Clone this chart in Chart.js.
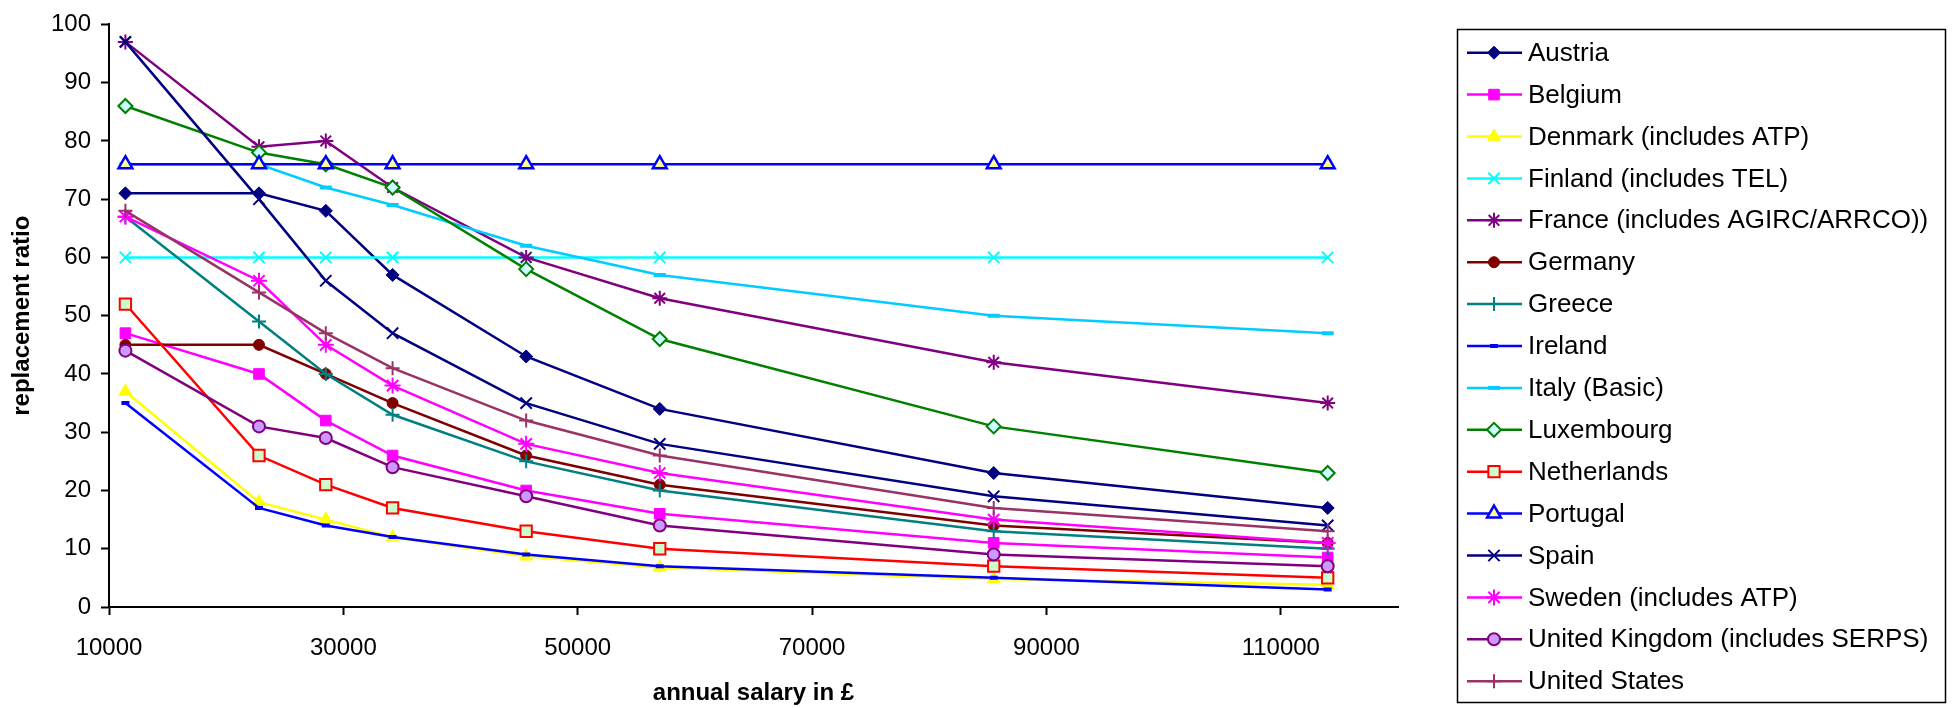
<!DOCTYPE html>
<html>
<head>
<meta charset="utf-8">
<script src="https://cdn.jsdelivr.net/npm/chart.js@4.4.0/dist/chart.umd.min.js"></script>
<style>
html, body { margin: 0; padding: 0; background: #fff; }
#wrap { width: 1952px; height: 708px; }
</style>
</head>
<body>
<div id="wrap"><canvas id="myChart" width="1952" height="708"></canvas></div>
<script>
// annual salary in pounds (x) and replacement ratio per country (y)
var salaries = [11400, 22800, 28500, 34200, 45600, 57000, 85500, 114000];
var xTickLabels = [10000, 30000, 50000, 70000, 90000, 110000];
var yTickLabels = [0, 10, 20, 30, 40, 50, 60, 70, 80, 90, 100];

var countries = ['Austria', 'Belgium', 'Denmark (includes ATP)', 'Finland (includes TEL)',
	'France (includes AGIRC/ARRCO))', 'Germany', 'Greece', 'Ireland', 'Italy (Basic)',
	'Luxembourg', 'Netherlands', 'Portugal', 'Spain', 'Sweden (includes ATP)',
	'United Kingdom (includes SERPS)', 'United States'];

var austria     = [71, 71, 68, 57, 43, 34, 23, 17];
var belgium     = [47, 40, 32, 26, 20, 16, 11, 8.5];
var denmark     = [37, 18, 15, 12, 8.7, 6.8, 4.8, 3.8];
var finland     = [60, 60, 60, 60, 60, 60, 60, 60];
var france      = [97, 79, 80, 72, 60, 53, 42, 35];
var germany     = [45, 45, 40, 35, 26, 21, 14, 11];
var greece      = [67, 49, 40, 33, 25, 20, 13, 10];
var ireland     = [35, 17, 14, 12, 9, 7, 5, 3];
var italy       = [76, 76, 72, 69, 62, 57, 50, 47];
var luxembourg  = [86, 78, 76, 72, 58, 46, 31, 23];
var netherlands = [52, 26, 21, 17, 13, 10, 7, 5];
var portugal    = [76, 76, 76, 76, 76, 76, 76, 76];
var spain       = [97, 70, 56, 47, 35, 28, 19, 14];
var sweden      = [67, 56, 45, 38, 28, 23, 15, 11];
var uk          = [44, 31, 29, 24, 19, 14, 9, 7];
var us          = [68, 54, 47, 41, 32, 26, 17, 13];

var seriesValues = [austria, belgium, denmark, finland, france, germany, greece, ireland,
	italy, luxembourg, netherlands, portugal, spain, sweden, uk, us];

// line colour, marker style, marker size, marker fill, marker border, border width
var styles = [
	['#000080', 'rectRot', 6.5, '#000080', '#000080', 1],
	['#FF00FF', 'rect', 7.5, '#FF00FF', '#FF00FF', 1],
	['#FFFF00', 'triangle', 7.5, '#FFFF00', '#FFFF00', 1],
	['#00FFFF', 'crossRot', 8, '#00FFFF', '#00FFFF', 2],
	['#800080', 'star', 7.5, '#800080', '#800080', 2],
	['#800000', 'circle', 5.5, '#800000', '#800000', 1],
	['#008080', 'cross', 7, '#008080', '#008080', 2],
	['#0000FF', 'line', 4, '#0000FF', '#0000FF', 4],
	['#00CCFF', 'line', 6, '#00CCFF', '#00CCFF', 4],
	['#008000', 'rectRot', 7, '#CCFFFF', '#008000', 2],
	['#FF0000', 'rect', 8, '#CCFFCC', '#FF0000', 2],
	['#0000FF', 'triangle', 8, '#FFFF99', '#0000FF', 2.5],
	['#000080', 'crossRot', 8, '#000080', '#000080', 2],
	['#FF00FF', 'star', 8, '#FF00FF', '#FF00FF', 2],
	['#800080', 'circle', 6, '#CC99FF', '#800080', 2],
	['#993366', 'cross', 7, '#993366', '#993366', 2]
];

var datasets = [];
countries.forEach(function(name, i) {
	var s = styles[i];
	datasets.push({
		label: name,
		data: salaries.map(function(x, j) { return { x: x, y: seriesValues[i][j] }; }),
		borderColor: s[0],
		borderWidth: 2.5,
		pointStyle: s[1],
		pointRadius: s[2],
		pointBackgroundColor: s[3],
		pointBorderColor: s[4],
		pointBorderWidth: s[5],
		tension: 0,
		fill: false,
		order: 20 - i
	});
});

// excel style legend: boxed, line + marker samples
var legendBox = {
	id: 'legendBox',
	afterDraw: function(chart) {
		var ctx = chart.ctx;
		ctx.save();
		ctx.strokeStyle = '#000';
		ctx.lineWidth = 1.5;
		ctx.strokeRect(1457.5, 29.5, 488, 673);
		chart.data.datasets.forEach(function(ds, i) {
			var y = 52.7 + i * 41.9;
			ctx.strokeStyle = ds.borderColor;
			ctx.lineWidth = ds.borderWidth;
			ctx.beginPath();
			ctx.moveTo(1467, y);
			ctx.lineTo(1522, y);
			ctx.stroke();
			ctx.lineWidth = ds.pointBorderWidth;
			ctx.strokeStyle = ds.pointBorderColor;
			ctx.fillStyle = ds.pointBackgroundColor;
			Chart.helpers.drawPoint(ctx, {
				pointStyle: ds.pointStyle, radius: ds.pointRadius,
				borderWidth: ds.pointBorderWidth, rotation: 0
			}, 1494, y);
			ctx.fillStyle = '#000';
			ctx.font = '26px "Liberation Sans", Arial, sans-serif';
			ctx.textBaseline = 'middle';
			ctx.textAlign = 'left';
			ctx.fillText(ds.label, 1528, y + 1);
		});
		ctx.restore();
	}
};

Chart.defaults.font.family = '"Liberation Sans", Arial, sans-serif';
Chart.defaults.color = '#000';

const ctx = document.getElementById('myChart').getContext('2d');
const myChart = new Chart(ctx, {
	type: 'line',
	data: { datasets: datasets },
	plugins: [legendBox],
	options: {
		responsive: false,
		devicePixelRatio: 1,
		animation: false,
		layout: { padding: { left: 0, top: 21, right: 554, bottom: 0 } },
		plugins: {
			legend: { display: false },
			tooltip: { enabled: false }
		},
		scales: {
			x: {
				type: 'linear',
				min: 10000,
				max: 120000,
				afterBuildTicks: function(scale) {
					scale.ticks = xTickLabels.map(function(v) { return { value: v }; });
				},
				afterFit: function(scale) { scale.height = 101; },
				ticks: {
					font: { size: 24 },
					padding: 19,
					maxRotation: 0,
					callback: function(v) { return String(v); }
				},
				grid: { drawOnChartArea: false, drawTicks: true, tickLength: 8, color: '#000', tickWidth: 2 },
				border: { display: true, color: '#000', width: 2 },
				title: {
					display: true,
					text: 'annual salary in £',
					font: { size: 24, weight: 'bold' },
					padding: { top: 0, bottom: 0 }
				}
			},
			y: {
				min: 0,
				max: 100,
				afterBuildTicks: function(scale) {
					scale.ticks = yTickLabels.map(function(v) { return { value: v }; });
				},
				afterFit: function(scale) { scale.width = 109; },
				ticks: {
					font: { size: 24 },
					padding: 10,
					callback: function(v) { return String(v); }
				},
				grid: { drawOnChartArea: false, drawTicks: true, tickLength: 8, color: '#000', tickWidth: 2 },
				border: { display: true, color: '#000', width: 2 },
				title: {
					display: true,
					text: 'replacement ratio',
					font: { size: 24, weight: 'bold' },
					padding: { top: 8, bottom: 0 }
				}
			}
		}
	}
});
</script>
</body>
</html>
